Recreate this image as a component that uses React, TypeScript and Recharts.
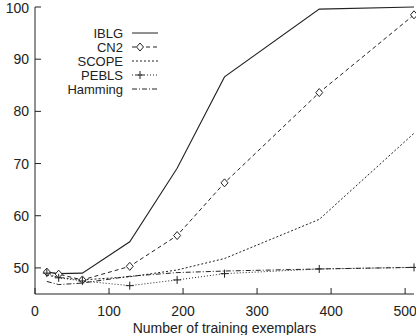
import { Line, LineChart, XAxis, YAxis } from "recharts";

const exemplars = [16, 32, 64, 128, 192, 256, 384, 512];
const iblg = [49.2, 48.9, 49.0, 55.0, 69.1, 86.6, 99.6, 100];
const cn2 = [49.2, 48.8, 47.7, 50.3, 56.2, 66.3, 83.6, 98.5];
const scope = [48.6, 48.2, 47.7, 48.3, 49.6, 51.8, 59.3, 75.8];
const pebls = [49.0, 48.1, 47.5, 46.6, 47.7, 48.9, 49.8, 50.1];
const hamming = [47.4, 46.8, 47.1, 48.4, 49.1, 49.4, 49.8, 50.1];

const xTicks = [0, 100, 200, 300, 400, 500];
const yTicks = [50, 60, 70, 80, 90, 100];

const rows = exemplars.map((n, i) => ({
  n,
  iblg: iblg[i],
  cn2: cn2[i],
  scope: scope[i],
  pebls: pebls[i],
  hamming: hamming[i],
}));

const INK = "#222";
const FONT = "'Liberation Sans', Arial, sans-serif";

const Diamond = (p: any) => (
  <path
    key={p.index}
    d={`M${p.cx},${p.cy - 4}L${p.cx + 3.5},${p.cy}L${p.cx},${p.cy + 4}L${p.cx - 3.5},${p.cy}Z`}
    fill="#fff"
    stroke={INK}
    strokeWidth={1}
  />
);

const Plus = (p: any) => (
  <path
    key={p.index}
    d={`M${p.cx - 4},${p.cy}H${p.cx + 4}M${p.cx},${p.cy - 4}V${p.cy + 4}`}
    stroke={INK}
    strokeWidth={1}
  />
);

// series name, dash pattern, marker
const legendItems: [string, string, string][] = [
  ["IBLG", "", ""],
  ["CN2", "4 3", "diamond"],
  ["SCOPE", "2 2", ""],
  ["PEBLS", "1 2", "plus"],
  ["Hamming", "5 2 1 2", ""],
];

function Key() {
  return (
    <svg
      width={170}
      height={80}
      style={{ position: "absolute", left: 0, top: 24 }}
    >
      {legendItems.map(([name, dash, mark], i) => {
        const y = 9 + i * 14;
        return (
          <g key={name}>
            <text
              x={123}
              y={y + 5}
              textAnchor="end"
              fontSize={13}
              fontFamily={FONT}
              fill={INK}
            >
              {name}
            </text>
            <line
              x1={132}
              x2={158}
              y1={y}
              y2={y}
              stroke={INK}
              strokeDasharray={dash || undefined}
            />
            {mark === "diamond" && <Diamond cx={140} cy={y} />}
            {mark === "plus" && <Plus cx={140} cy={y} />}
          </g>
        );
      })}
    </svg>
  );
}

const tickStyle = { fill: INK, fontSize: 14, fontFamily: FONT };

export default function App() {
  return (
    <div style={{ position: "absolute", left: 0, top: 0, width: 416, height: 335 }}>
      <LineChart
        width={416}
        height={335}
        data={rows}
        margin={{ top: 7, right: 2, left: 0, bottom: 0 }}
      >
        <XAxis
          xAxisId="b"
          dataKey="n"
          type="number"
          domain={[0, 512]}
          ticks={xTicks}
          tick={tickStyle}
          tickSize={-6}
          tickMargin={18}
          height={41}
          stroke={INK}
          label={{
            value: "Number of training exemplars",
            position: "insideBottom",
            offset: 2,
            fill: INK,
            fontSize: 14,
            fontFamily: FONT,
          }}
        />
        <XAxis
          xAxisId="t"
          orientation="top"
          dataKey="n"
          type="number"
          domain={[0, 512]}
          ticks={xTicks}
          tickFormatter={() => ""}
          tickSize={-6}
          height={0}
          stroke="#666"
          strokeWidth={2}
        />
        <YAxis
          yAxisId="l"
          type="number"
          domain={[45, 100]}
          ticks={yTicks}
          tick={tickStyle}
          tickSize={-6}
          tickMargin={12}
          width={35}
          stroke={INK}
        />
        <YAxis
          yAxisId="r"
          orientation="right"
          type="number"
          domain={[45, 100]}
          ticks={yTicks}
          tickFormatter={() => ""}
          tickSize={-6}
          width={0}
          stroke={INK}
        />
        <Line
          xAxisId="b"
          yAxisId="l"
          dataKey="iblg"
          type="linear"
          stroke={INK}
          strokeWidth={1.1}
          dot={false}
          isAnimationActive={false}
        />
        <Line
          xAxisId="b"
          yAxisId="l"
          dataKey="cn2"
          type="linear"
          stroke={INK}
          strokeDasharray="4 3"
          dot={Diamond}
          isAnimationActive={false}
        />
        <Line
          xAxisId="b"
          yAxisId="l"
          dataKey="scope"
          type="linear"
          stroke={INK}
          strokeDasharray="2 2"
          dot={false}
          isAnimationActive={false}
        />
        <Line
          xAxisId="b"
          yAxisId="l"
          dataKey="pebls"
          type="linear"
          stroke={INK}
          strokeDasharray="1 2"
          dot={Plus}
          isAnimationActive={false}
        />
        <Line
          xAxisId="b"
          yAxisId="l"
          dataKey="hamming"
          type="linear"
          stroke={INK}
          strokeDasharray="5 2 1 2"
          dot={false}
          isAnimationActive={false}
        />
      </LineChart>
      <Key />
    </div>
  );
}
